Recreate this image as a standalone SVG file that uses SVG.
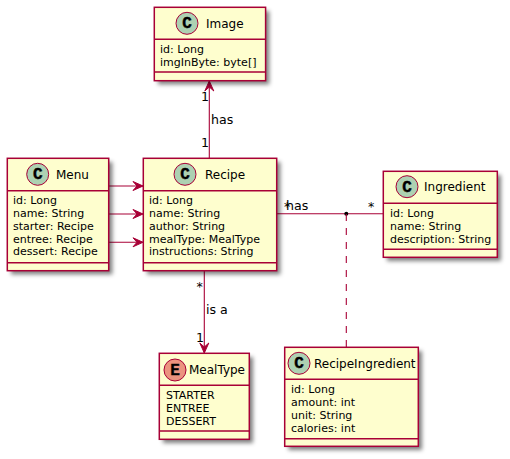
<svg xmlns="http://www.w3.org/2000/svg" width="510" height="459" viewBox="0 0 510 459">
<defs>
<filter id="sh" x="-20%" y="-20%" width="140%" height="140%"><feGaussianBlur stdDeviation="2.2"/></filter>
</defs>
<style>
text{font-family:"DejaVu Sans",sans-serif;fill:#000}
.box{fill:#FEFECE;stroke:#A80036;stroke-width:1.5}
.shadow{fill:#000;fill-opacity:.5;filter:url(#sh)}
.sep{stroke:#A80036;stroke-width:1.5;fill:none}
.c{fill:#ADD1B2;stroke:#A80036;stroke-width:1}
.e{fill:#EB937F;stroke:#A80036;stroke-width:1}
.g{font-family:"Liberation Mono",monospace;font-weight:bold;font-size:16px;text-anchor:middle;stroke:#000;stroke-width:.4}
.n{font-size:12px}
.m{font-size:11px}
.l{font-size:12.600px}
.k{fill:none;stroke:#A80036;stroke-width:1.100}
.a{fill:#A80036;stroke:#A80036;stroke-width:1}
</style>
<g id="connectors">
<path class="k" d="M209.300 81V158"/>
<path class="a" d="M209.300 81l-4.500 10 4.500-4 4.500 4z"/>
<path class="k" d="M108.700 186H143"/>
<path class="a" d="M143 186l-10-4.500 4 4.500-4 4.500z"/>
<path class="k" d="M108.700 214H143"/>
<path class="a" d="M143 214l-10-4.500 4 4.500-4 4.500z"/>
<path class="k" d="M108.700 242.300H143"/>
<path class="a" d="M143 242.300l-10-4.500 4 4.500-4 4.500z"/>
<path class="k" d="M277 213.700H383"/>
<circle cx="346.300" cy="213.700" r="2" fill="#000"/>
<path class="k" d="M346.300 214V347" stroke-dasharray="7 7"/>
<path class="k" d="M204.300 271V353"/>
<path class="a" d="M204.300 353l-4.500-10 4.500 4 4.500-4z"/>
<text class="l" x="201" y="101">1</text>
<text class="l" x="211" y="124">has</text>
<text class="l" x="201" y="147">1</text>
<text class="l" x="284" y="211">*</text>
<text class="l" x="286" y="210">has</text>
<text class="l" x="368" y="211">*</text>
<text class="l" x="196.500" y="291">*</text>
<text class="l" x="206" y="313.500">is a</text>
<text class="l" x="196" y="341.500">1</text>
</g>
<g id="Image">
<rect class="shadow" x="158" y="11" width="111.300" height="73.400"/>
<rect class="box" x="154.300" y="7.300" width="111.300" height="73.400"/>
<path class="sep" d="M154.300 39.300H265.600M154.300 72H265.600"/>
<circle class="c" cx="187" cy="23.300" r="11"/>
<text class="g" x="187" y="28.300">C</text>
<text class="n" x="206" y="27.500">Image</text>
<text class="m" x="160" y="53">id: Long</text>
<text class="m" x="160" y="66">imgInByte: byte[]</text>
</g>
<g id="Menu">
<rect class="shadow" x="11" y="162" width="101.400" height="112.400"/>
<rect class="box" x="7.300" y="158.300" width="101.400" height="112.400"/>
<path class="sep" d="M7.300 190.700H108.700M7.300 262.700H108.700"/>
<circle class="c" cx="37.700" cy="174.300" r="11"/>
<text class="g" x="37.700" y="179.300">C</text>
<text class="n" x="56" y="178.500">Menu</text>
<text class="m" x="13" y="204">id: Long</text>
<text class="m" x="13" y="217">name: String</text>
<text class="m" x="13" y="230">starter: Recipe</text>
<text class="m" x="13" y="243">entree: Recipe</text>
<text class="m" x="13" y="255">dessert: Recipe</text>
</g>
<g id="Recipe">
<rect class="shadow" x="147" y="162" width="133.400" height="112.400"/>
<rect class="box" x="143.300" y="158.300" width="133.400" height="112.400"/>
<path class="sep" d="M143.300 190.700H276.700M143.300 262.700H276.700"/>
<circle class="c" cx="185" cy="174.300" r="11"/>
<text class="g" x="185" y="179.300">C</text>
<text class="n" x="205" y="178.500">Recipe</text>
<text class="m" x="149" y="204">id: Long</text>
<text class="m" x="149" y="217">name: String</text>
<text class="m" x="149" y="230">author: String</text>
<text class="m" x="149" y="243">mealType: MealType</text>
<text class="m" x="149" y="255">instructions: String</text>
</g>
<g id="Ingredient">
<rect class="shadow" x="387" y="175" width="114" height="86"/>
<rect class="box" x="383.300" y="171.300" width="114" height="86"/>
<path class="sep" d="M383.300 203.300H497.300M383.300 249.300H497.300"/>
<circle class="c" cx="407" cy="186.700" r="11"/>
<text class="g" x="407" y="191.700">C</text>
<text class="n" x="424" y="191">Ingredient</text>
<text class="m" x="390" y="217">id: Long</text>
<text class="m" x="390" y="230">name: String</text>
<text class="m" x="390" y="243">description: String</text>
</g>
<g id="MealType">
<rect class="shadow" x="163" y="357" width="90" height="86"/>
<rect class="box" x="159.300" y="353.300" width="90" height="86"/>
<path class="sep" d="M159.300 385.300H249.300M159.300 431H249.300"/>
<circle class="e" cx="175" cy="370" r="11"/>
<text class="g" x="175" y="375">E</text>
<text class="n" x="189" y="374">MealType</text>
<text class="m" x="166" y="399">STARTER</text>
<text class="m" x="166" y="412">ENTREE</text>
<text class="m" x="166" y="425">DESSERT</text>
</g>
<g id="RecipeIngredient">
<rect class="shadow" x="288.400" y="351" width="133.600" height="99"/>
<rect class="box" x="284.700" y="347.300" width="133.600" height="99"/>
<path class="sep" d="M284.700 379.300H418.300M284.700 438.700H418.300"/>
<circle class="c" cx="299" cy="363.300" r="11"/>
<text class="g" x="299" y="368.300">C</text>
<text class="n" x="314" y="367.500">RecipeIngredient</text>
<text class="m" x="291" y="393">id: Long</text>
<text class="m" x="291" y="406">amount: int</text>
<text class="m" x="291" y="419">unit: String</text>
<text class="m" x="291" y="432">calories: int</text>
</g>
</svg>
